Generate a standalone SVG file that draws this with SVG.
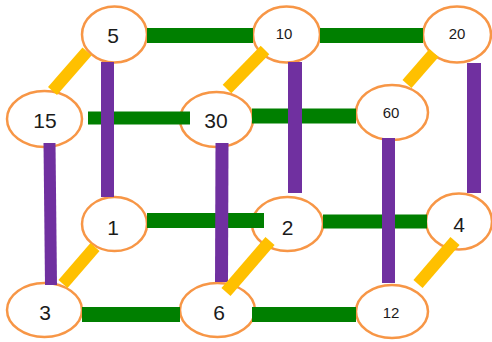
<svg xmlns="http://www.w3.org/2000/svg" width="492" height="342" viewBox="0 0 492 342">
<style>
.n ellipse{fill:#fff;stroke:#F79646;stroke-width:2.5}
.n text{font-family:"Liberation Sans","Open Sans",sans-serif;fill:#1b1b1b;text-anchor:middle}
.big{font-size:21px}
.sm{font-size:15px}
.g{stroke:#007F00;stroke-linecap:butt}
.p{stroke:#7030A0;stroke-linecap:butt}
.o{stroke:#FFC000;stroke-width:12;stroke-linecap:butt}
</style>
<rect width="492" height="342" fill="#fff"/>
<g id="n5" class="n"><ellipse cx="114.5" cy="34.5" rx="32.5" ry="28"/><text x="113" y="43" class="big">5</text></g>
<g id="n10" class="n"><ellipse cx="286.5" cy="34.5" rx="33.5" ry="28"/><text x="284" y="38.5" class="sm">10</text></g>
<g id="n20" class="n"><ellipse cx="457" cy="34.5" rx="34" ry="28"/><text x="457" y="38.5" class="sm">20</text></g>
<g id="n15" class="n"><ellipse cx="44.5" cy="119" rx="37.5" ry="28"/><text x="45" y="128" class="big">15</text></g>
<g id="n30" class="n"><ellipse cx="216.5" cy="119.5" rx="36.5" ry="27.5"/><text x="216" y="128" class="big">30</text></g>
<g id="n60" class="n"><ellipse cx="392" cy="112.5" rx="36" ry="27.5"/><text x="391" y="117.5" class="sm">60</text></g>
<g id="n1" class="n"><ellipse cx="114.5" cy="224" rx="32.5" ry="27"/><text x="113" y="235" class="big">1</text></g>
<g id="n2" class="n"><ellipse cx="287.5" cy="224" rx="35.5" ry="27"/><text x="287.5" y="235" class="big">2</text></g>
<g id="n4" class="n"><ellipse cx="459" cy="221.5" rx="33" ry="28"/><text x="459" y="232" class="big">4</text></g>
<g id="n3" class="n"><ellipse cx="44.5" cy="310" rx="37.5" ry="27"/><text x="45" y="320" class="big">3</text></g>
<g id="n6" class="n"><ellipse cx="217.5" cy="310" rx="37.5" ry="27"/><text x="219" y="320" class="big">6</text></g>
<g id="n12" class="n"><ellipse cx="392" cy="311.5" rx="36" ry="26.5"/><text x="391" y="317.5" class="sm">12</text></g>
<g id="connectors">
<line class="g" x1="147" y1="35.5" x2="253" y2="35.5" stroke-width="15"/>
<line class="g" x1="320" y1="35.5" x2="423" y2="35.5" stroke-width="15"/>
<line class="g" x1="88" y1="118" x2="190" y2="118" stroke-width="13"/>
<line class="g" x1="252" y1="116" x2="356" y2="116" stroke-width="15"/>
<line class="g" x1="147" y1="220.5" x2="264" y2="220.5" stroke-width="15"/>
<line class="g" x1="323" y1="221.5" x2="427" y2="221.5" stroke-width="14"/>
<line class="g" x1="82" y1="314.5" x2="180" y2="314.5" stroke-width="15"/>
<line class="g" x1="252" y1="314.5" x2="356" y2="314.5" stroke-width="15"/>
<line class="p" x1="107.5" y1="62" x2="107.5" y2="197" stroke-width="13"/>
<line class="p" x1="49.5" y1="143" x2="51" y2="285" stroke-width="12"/>
<line class="p" x1="222" y1="143" x2="221.5" y2="282" stroke-width="13"/>
<line class="p" x1="295" y1="62" x2="295" y2="193" stroke-width="14"/>
<line class="p" x1="388.5" y1="138" x2="388.5" y2="283" stroke-width="13"/>
<line class="p" x1="474" y1="63" x2="474" y2="193" stroke-width="14"/>
<line class="o" x1="52.5" y1="91" x2="87" y2="51.5"/>
<line class="o" x1="227" y1="89" x2="265" y2="50"/>
<line class="o" x1="407" y1="84" x2="434" y2="53"/>
<line class="o" x1="63" y1="284" x2="95" y2="247"/>
<line class="o" x1="226" y1="292" x2="270" y2="241"/>
<line class="o" x1="418" y1="284" x2="455" y2="241"/>
</g>
</svg>
